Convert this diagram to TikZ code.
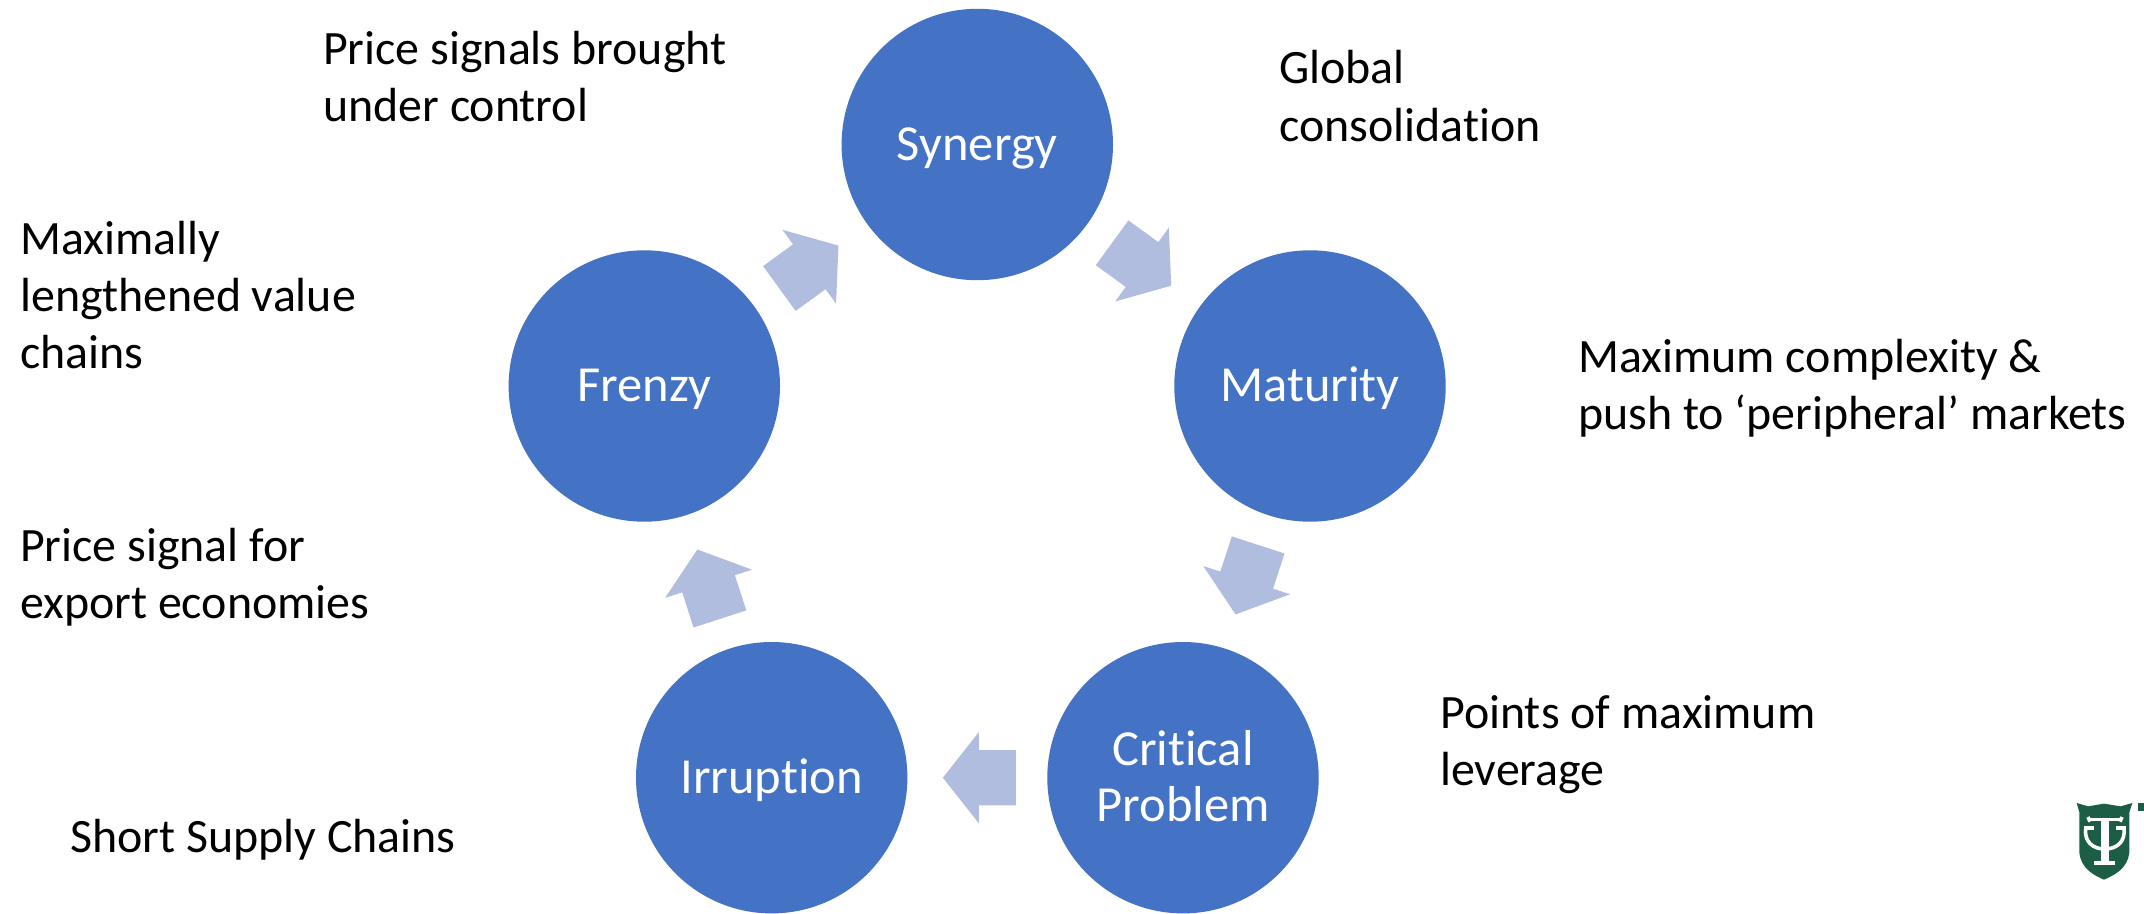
\documentclass[tikz,border=0pt]{standalone}
\usepackage{fontspec}
\setmainfont{Carlito}[Ligatures=NoCommon]
\usetikzlibrary{calc}
\definecolor{cblue}{HTML}{4472C4}
\definecolor{carrow}{HTML}{B0BDDF}
\definecolor{tgreen}{HTML}{1B5E45}
\tikzset{
  phase/.style={circle,fill=cblue,draw=none,minimum size=271.4pt,inner sep=0pt,text=white,align=center,font=\fontsize{50.5}{55.7}\selectfont},
  note/.style={anchor=west,align=left,inner sep=0pt,text=black,font=\fontsize{47.9}{57.4}\selectfont},
}
\newcommand{\phasetext}[1]{\raisebox{-15.5pt}[0pt][0pt]{#1}}
\newcommand{\cyclearrow}[5]{%
  \begin{scope}[shift={($(#1)!.5!(#2)+(#4,#5)$)},rotate=#3]
    \fill[carrow] (-37,27.7) -- (0,27.7) -- (0,45.6) -- (36,0) -- (0,-45.6) -- (0,-27.7) -- (-37,-27.7) -- cycle;
  \end{scope}}
\begin{document}
\begin{tikzpicture}[x=1pt,y=1pt]
\useasboundingbox (0,0) rectangle (2144,-913);
\fill[white] (0,0) rectangle (2144,-913);
\node[phase] (syn) at (977.3,-144.5) {\phasetext{Synergy}};
\node[phase] (mat) at (1310,-386) {\phasetext{Maturity}};
\node[phase] (cri) at (1183,-777.7) {\phasetext{Critical}\\\phasetext{Problem}};
\node[phase] (irr) at (771.7,-777.7) {\phasetext{Irruption}};
\node[phase] (fre) at (644.3,-386) {\phasetext{Frenzy}};
\cyclearrow{syn}{mat}{-36}{-1.6}{0.7}
\cyclearrow{mat}{cri}{-108}{0.2}{1.7}
\cyclearrow{cri}{irr}{180}{1.5}{0}
\cyclearrow{irr}{fre}{108}{0.5}{-1.9}
\cyclearrow{fre}{syn}{36}{-1.5}{-1.5}
\node[note] (n1) at (323,-76.5) {Price signals brought\\under control};
\node[note] (n2) at (1279,-96) {Global\\consolidation};
\node[note] (n3) at (1578,-388.5) {Maximum complexity \&\\push to ‘peripheral’ markets};
\node[note] (n4) at (1440,-744.5) {Points of maximum\\leverage};
\node[note] (n5) at (20,-295) {Maximally\\lengthened value\\chains};
\node[note] (n6) at (20,-577.5) {Price signal for\\export economies};
\node[note] (n7) at (70,-840) {Short Supply Chains};
% logo
\begin{scope}[shift={(1984,-773)},x=0.3333pt,y=-0.3333pt]
\fill[tgreen] (278,90) -- (312,100) -- (360,92) -- (410,100) -- (445,90) -- (436,118) -- (436,240)
  .. controls (430,285) and (395,305) .. (360,320) .. controls (325,305) and (292,285) .. (286,240) -- (286,118) -- cycle;
\draw[white,line width=3.6pt] (318,140) -- (408,140);
\draw[white,line width=3.6pt] (312,132) -- (318,146) (414,132) -- (408,146);
\draw[white,line width=3.6pt] (305,165) .. controls (300,205) and (325,228) .. (362,228) .. controls (400,228) and (425,205) .. (420,165);
\draw[white,line width=3.6pt] (300,165) -- (330,165) (395,165) -- (425,165);
\fill[white] (351,140) rectangle (374,268);
\fill[white] (330,264) rectangle (392,276);
\fill[tgreen] (463,90) rectangle (480,115);
\end{scope}
\end{tikzpicture}
\end{document}
